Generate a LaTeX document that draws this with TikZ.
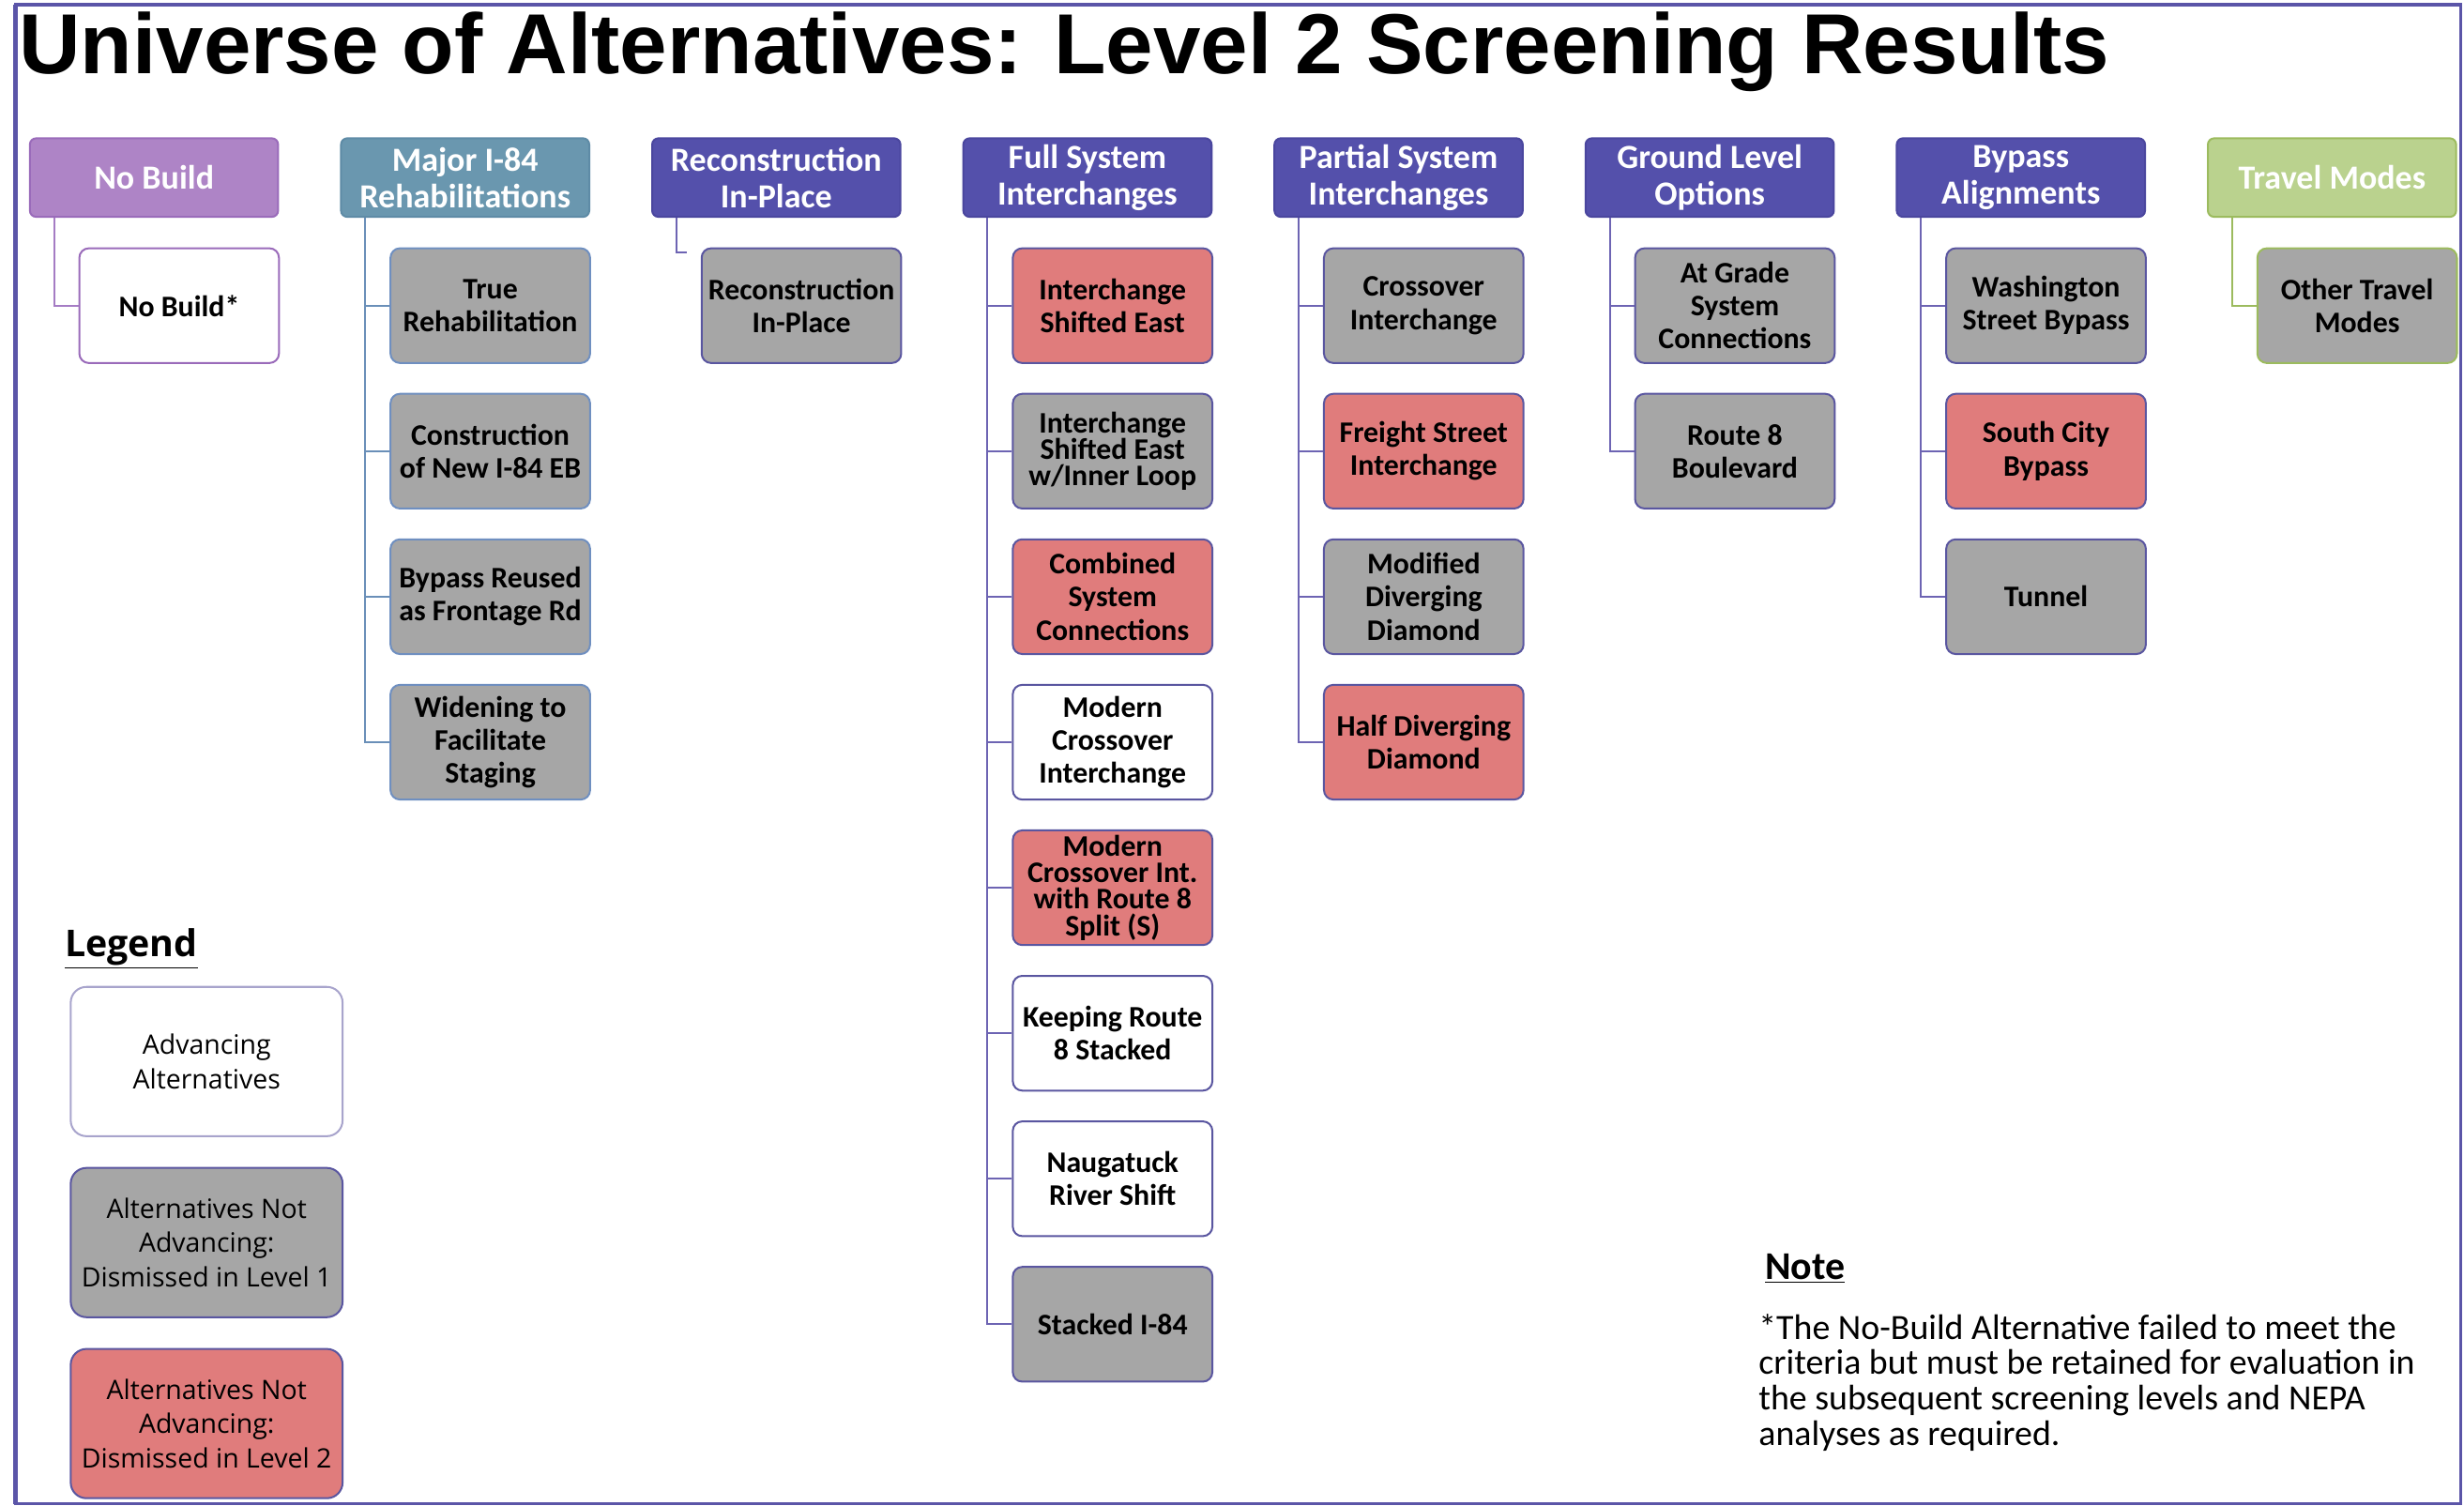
\documentclass[tikz,border=0pt]{standalone}
\usepackage{fontspec}
\setmainfont{Carlito}
\newfontfamily\titlefont{Liberation Sans}
\newfontfamily\legendfont{Open Sans}
\usepackage{tikz}
\usetikzlibrary{positioning}
\definecolor{nbfill}{HTML}{AE84C6}
\definecolor{nbedge}{HTML}{9A6BBA}
\definecolor{majfill}{HTML}{6A97AF}
\definecolor{majedge}{HTML}{5E8BA6}
\definecolor{indfill}{HTML}{5450AB}
\definecolor{indedge}{HTML}{4A469E}
\definecolor{tmfill}{HTML}{BAD28E}
\definecolor{tmedge}{HTML}{9CBB5E}
\definecolor{grayfill}{HTML}{A6A6A6}
\definecolor{redfill}{HTML}{E07C7C}
\definecolor{edgeind}{HTML}{5A56A0}
\definecolor{edgeblue}{HTML}{6F8FC0}
\definecolor{keyedge}{HTML}{A8A4CC}
\definecolor{linepur}{HTML}{A57CC4}
\definecolor{lineblue}{HTML}{6A8FB8}
\definecolor{lineind}{HTML}{6D64B3}
\definecolor{framecol}{HTML}{5B55A8}

\begin{document}
\begin{tikzpicture}[x=1pt,y=-1pt,
    every node/.style={inner sep=1pt},
    hdr/.style={draw,line width=1.2pt,rounded corners=4pt,minimum width=158pt,minimum height=50pt,
      align=center,text=white,font=\fontsize{21.5}{23}\selectfont\bfseries},
    alt/.style={line width=1.2pt,rounded corners=6pt,minimum width=127pt,minimum height=73pt,
      align=center,font=\fontsize{19}{21}\selectfont\bfseries},
    key/.style={draw=edgeind,line width=1.2pt,rounded corners=10pt,minimum width=173pt,minimum height=95pt,
      align=center,font=\legendfont\fontsize{17}{22}\selectfont},
    trunk/.style={line width=1.2pt}]
  \useasboundingbox (0,0) rectangle (1568,958);
  \draw[framecol,line width=2pt] (10,3) rectangle (1566,957);
  \draw[framecol,line width=3pt] (10,3) -- (10,957);
  \node[anchor=base west,inner sep=0pt,font=\titlefont\bfseries\fontsize{54.2}{60}\selectfont] (title) at (12,47)
    {Universe of Alternatives: Level 2 Screening Results};

  \node[hdr,fill=nbfill,draw=nbedge] (nb) at (98,113) {No Build};
  \node[hdr,fill=majfill,draw=majedge] (maj) at (296,113) {Major I-84\\Rehabilitations};
  \node[hdr,fill=indfill,draw=indedge] (rp) at (494,113) {Reconstruction\\In-Place};
  \node[hdr,fill=indfill,draw=indedge] (fs) at (692,113) {Full System\\Interchanges};
  \node[hdr,fill=indfill,draw=indedge] (ps) at (890,113) {Partial System\\Interchanges};
  \node[hdr,fill=indfill,draw=indedge] (gl) at (1088,113) {Ground Level\\Options};
  \node[hdr,fill=indfill,draw=indedge] (ba) at (1286,113) {Bypass\\Alignments};
  \node[hdr,fill=tmfill,draw=tmedge] (tm) at (1484,113) {Travel Modes};

  \node[alt,draw=nbedge,fill=white] (nb1) at (114,194.5) {No Build*};
  \draw[trunk,linepur] ([xshift=16pt]nb.south west) |- (nb1.west);

  \foreach \row/\clr/\txt in {1/grayfill/{True\\Rehabilitation},2/grayfill/{Construction\\of New I-84 EB},
      3/grayfill/{Bypass Reused\\as Frontage Rd},4/grayfill/{Widening to\\Facilitate\\Staging}}{
    \node[alt,draw=edgeblue,fill=\clr] (maj\row) at (312,{194.5+92.6*(\row-1)}) {\txt};
    \draw[trunk,lineblue] ([xshift=16pt]maj.south west) |- (maj\row.west);
  }

  \node[alt,draw=edgeind,fill=grayfill] (rp1) at (510,194.5) {Reconstruction\\In-Place};
  \coordinate (rpend) at ([xshift=-9pt,yshift=-3pt]rp1.north west);
  \draw[trunk,lineind] ([xshift=16pt]rp.south west) |- (rpend);

  \foreach \row/\clr/\ls/\txt in {1/redfill/21/{Interchange\\Shifted East},2/grayfill/17/{Interchange\\Shifted East\\w/Inner Loop},
      3/redfill/21/{Combined\\System\\Connections},4/white/21/{Modern\\Crossover\\Interchange},
      5/redfill/17/{Modern\\Crossover Int.\\with Route 8\\Split (S)},6/white/21/{Keeping Route\\8 Stacked},
      7/white/21/{Naugatuck\\River Shift},8/grayfill/21/{Stacked I-84}}{
    \node[alt,draw=edgeind,fill=\clr,font=\fontsize{19}{\ls}\selectfont\bfseries] (fs\row) at (708,{194.5+92.6*(\row-1)}) {\txt};
    \draw[trunk,lineind] ([xshift=16pt]fs.south west) |- (fs\row.west);
  }

  \foreach \row/\clr/\txt in {1/grayfill/{Crossover\\Interchange},2/redfill/{Freight Street\\Interchange},
      3/grayfill/{Modified\\Diverging\\Diamond},4/redfill/{Half Diverging\\Diamond}}{
    \node[alt,draw=edgeind,fill=\clr] (ps\row) at (906,{194.5+92.6*(\row-1)}) {\txt};
    \draw[trunk,lineind] ([xshift=16pt]ps.south west) |- (ps\row.west);
  }

  \foreach \row/\clr/\txt in {1/grayfill/{At Grade\\System\\Connections},2/grayfill/{Route 8\\Boulevard}}{
    \node[alt,draw=edgeind,fill=\clr] (gl\row) at (1104,{194.5+92.6*(\row-1)}) {\txt};
    \draw[trunk,lineind] ([xshift=16pt]gl.south west) |- (gl\row.west);
  }

  \foreach \row/\clr/\txt in {1/grayfill/{Washington\\Street Bypass},2/redfill/{South City\\Bypass},3/grayfill/{Tunnel}}{
    \node[alt,draw=edgeind,fill=\clr] (ba\row) at (1302,{194.5+92.6*(\row-1)}) {\txt};
    \draw[trunk,lineind] ([xshift=16pt]ba.south west) |- (ba\row.west);
  }

  \node[alt,draw=tmedge,fill=grayfill] (tm1) at (1500,194.5) {Other Travel\\Modes};
  \draw[trunk,tmedge] ([xshift=16pt]tm.south west) |- (tm1.west);

  \node[anchor=base west,inner sep=0pt,font=\legendfont\bfseries\fontsize{23.5}{26}\selectfont] (leghead) at (41,609) {\underline{Legend}};
  \node[key,fill=white,draw=keyedge] (key1) at (131.5,675.5) {Advancing\\Alternatives};
  \node[key,fill=grayfill,below=19pt of key1] (key2) {Alternatives Not\\Advancing:\\Dismissed in Level 1};
  \node[key,fill=redfill,below=19pt of key2] (key3) {Alternatives Not\\Advancing:\\Dismissed in Level 2};

  \node[anchor=base west,inner sep=0pt,font=\bfseries\fontsize{25}{28}\selectfont] (notehead) at (1123,814) {\underline{Note}};
  \node[anchor=north west,inner sep=0pt,align=left,font=\fontsize{22.6}{22.5}\selectfont] (notetext) at (1119,836)
    {*The No-Build Alternative failed to meet the\\criteria but must be retained for evaluation in\\the subsequent screening levels and NEPA\\analyses as required.};
\end{tikzpicture}
\end{document}
